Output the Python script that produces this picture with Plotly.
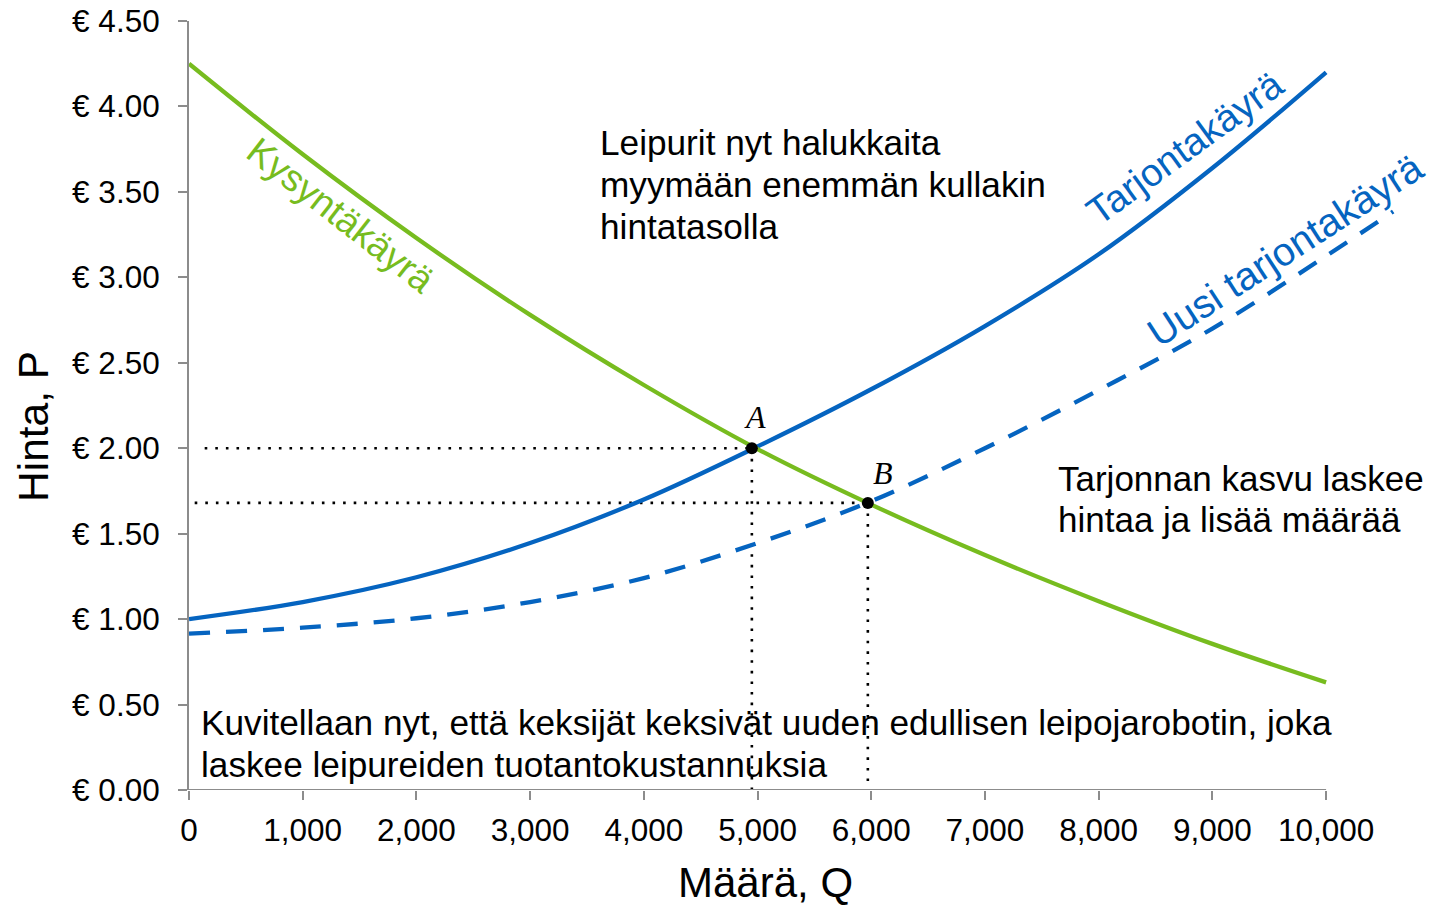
import plotly.graph_objects as go

# ---------------- data ----------------
quantity = [0, 1000, 2000, 3000, 4000, 5000, 6000, 7000, 8000, 9000, 10000]
demand = [4.25, 3.72, 3.23, 2.78, 2.37, 1.995, 1.67, 1.375, 1.105, 0.855, 0.63]
supply = [1.00, 1.10, 1.245, 1.445, 1.70, 2.01, 2.345, 2.715, 3.135, 3.64, 4.20]
quantity_new = [0, 1000, 2000, 3000, 4000, 5000, 6000, 7000, 8000, 9000, 10000, 10590]
supply_new = [0.915, 0.95, 1.005, 1.10, 1.24, 1.445, 1.69, 2.00, 2.34, 2.70, 3.125, 3.385]

point_labels = ["A", "B"]
point_q = [4950, 5970]
point_p = [2.00, 1.68]
guide_start_q = [138, 50]

x_tickvals = [0, 1000, 2000, 3000, 4000, 5000, 6000, 7000, 8000, 9000, 10000]
x_ticktext = ["0", "1,000", "2,000", "3,000", "4,000", "5,000", "6,000", "7,000", "8,000", "9,000", "10,000"]
y_tickvals = [0, 0.5, 1.0, 1.5, 2.0, 2.5, 3.0, 3.5, 4.0, 4.5]
y_ticktext = ["€ 0.00", "€ 0.50", "€ 1.00", "€ 1.50", "€ 2.00", "€ 2.50", "€ 3.00", "€ 3.50", "€ 4.00", "€ 4.50"]

GREEN = "#77BC1F"
BLUE = "#0564C0"
AXIS = "#8C8C8C"
FONT = "Liberation Sans, Arial, sans-serif"
SERIF = "Liberation Serif, Times New Roman, serif"

fig = go.Figure()

# guide lines (dotted)
for q, p, q0 in zip(point_q, point_p, guide_start_q):
    fig.add_trace(go.Scatter(x=[q0, q], y=[p, p], mode="lines",
                             line=dict(color="black", width=2.6, dash="2.6px,8px"),
                             hoverinfo="skip"))
    fig.add_trace(go.Scatter(x=[q, q], y=[p, 0], mode="lines",
                             line=dict(color="black", width=2.6, dash="2.6px,8px"),
                             hoverinfo="skip"))

fig.add_trace(go.Scatter(x=quantity_new, y=supply_new, mode="lines",
                         line=dict(color=BLUE, width=4.3, dash="21px,16px", shape="spline", smoothing=1.0),
                         name="Uusi tarjontakäyrä"))
fig.add_trace(go.Scatter(x=quantity, y=supply, mode="lines",
                         line=dict(color=BLUE, width=4.3, shape="spline", smoothing=1.0),
                         name="Tarjontakäyrä"))
fig.add_trace(go.Scatter(x=quantity, y=demand, mode="lines",
                         line=dict(color=GREEN, width=4.3, shape="spline", smoothing=1.0),
                         name="Kysyntäkäyrä"))
fig.add_trace(go.Scatter(x=point_q, y=point_p, mode="markers",
                         marker=dict(color="black", size=12), name="Tasapaino"))

# x axis line only up to 10,000
fig.add_shape(type="line", xref="x", yref="y", x0=0, x1=10000, y0=0, y1=0,
              line=dict(color=AXIS, width=2), layer="above")

annotations = []


def ann(text, x, y, size=35.2, color="black", angle=0, xanchor="left", yanchor="middle",
        family=FONT, xref="x", yref="y"):
    annotations.append(dict(text=text, x=x, y=y, xref=xref, yref=yref, showarrow=False,
                            xanchor=xanchor, yanchor=yanchor, textangle=angle,
                            font=dict(size=size, color=color, family=family)))


# point labels
ann("<i>A</i>", 4975, 2.18, size=32, xanchor="center", family=SERIF)
ann("<i>B</i>", 6101, 1.853, size=32, xanchor="center", family=SERIF)

# curve labels
ann("Kysyntäkäyrä", 1334, 3.363, size=37.5, color=GREEN, angle=38, xanchor="center")
ann("Tarjontakäyrä", 8757, 3.76, size=38.5, color=BLUE, angle=-36, xanchor="center")
ann("Uusi tarjontakäyrä", 9637, 3.158, size=39.5, color=BLUE, angle=-33, xanchor="center")

# text blocks
ann("Leipurit nyt halukkaita", 3595, 3.79)
ann("myymään enemmän kullakin", 3595, 3.545)
ann("hintatasolla", 3595, 3.30)
ann("Tarjonnan kasvu laskee", 7623, 1.82, size=35)
ann("hintaa ja lisää määrää", 7623, 1.585, size=35)
ann("Kuvitellaan nyt, että keksijät keksivät uuden edullisen leipojarobotin, joka", 85, 0.395)
ann("laskee leipureiden tuotantokustannuksia", 85, 0.15)

# axis titles
ann("Määrä, Q", (765 - 189) / 1211, -(882 - 790) / 769, size=42, xanchor="center",
    xref="paper", yref="paper")
ann("Hinta, P", -(189 - 33) / 1211, (790 - 427) / 769, size=42.5, xanchor="center",
    angle=-90, xref="paper", yref="paper")

fig.update_layout(
    width=1430, height=907,
    margin=dict(l=189, r=30, t=21, b=117, autoexpand=False),
    plot_bgcolor="white", paper_bgcolor="white",
    showlegend=False,
    annotations=annotations,
    font=dict(family=FONT, color="black"),
    xaxis=dict(range=[0, 10650], showgrid=False, zeroline=False, showline=False,
               automargin=False,
               tickvals=x_tickvals, ticktext=x_ticktext, ticks="outside", ticklen=9,
               tickcolor=AXIS, tickwidth=2, ticklabelstandoff=3,
               tickfont=dict(size=31.5, family=FONT, color="black")),
    yaxis=dict(range=[0, 4.5], showgrid=False, zeroline=False, showline=True,
               automargin=False,
               linecolor=AXIS, linewidth=2,
               tickvals=y_tickvals, ticktext=y_ticktext, ticks="outside", ticklen=9,
               tickcolor=AXIS, tickwidth=2, ticklabelstandoff=12,
               tickfont=dict(size=31.5, family=FONT, color="black")),
)

fig.write_html("out.html",
               config={"displayModeBar": False},
               post_script="document.body.style.margin='0';document.body.style.overflow='hidden';")
